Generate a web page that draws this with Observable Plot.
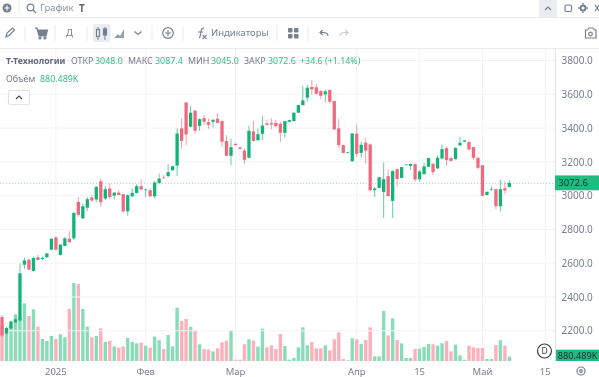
<!DOCTYPE html>
<html><head><meta charset="utf-8">
<script src="https://cdn.jsdelivr.net/npm/d3@7"></script>
<script src="https://cdn.jsdelivr.net/npm/@observablehq/plot@0.6"></script>
<style>
html,body{margin:0;padding:0;background:#fff;overflow:hidden}
#page{position:relative;width:599px;height:377px;font-family:"Noto Sans",sans-serif;color:#6f7a8a;filter:blur(0.3px)}
#bar{position:absolute;left:0;top:0;width:599px;height:48px;border-bottom:1px solid #e8ebef;box-sizing:content-box}
.t{position:absolute;white-space:nowrap;line-height:1}
.g{color:#35bd87}
svg.chart{position:absolute;left:0;top:49px;background:transparent;overflow:visible}
svg.ic{position:absolute;left:0;top:0}
</style></head><body><div id="page">
<svg class="ic" width="599" height="377" fill="none" stroke="#76808f" stroke-width="1.2" style="z-index:5">
  <rect x="539" y="0" width="18" height="17" fill="#e8edf2" stroke="none"/>
  <rect x="93" y="24" width="17.5" height="18" rx="2" fill="#e8edf2" stroke="none"/>
  <rect x="0" y="17" width="599" height="1" fill="#e8ebef" stroke="none"/>
  <g stroke="#e8ebef" stroke-width="1">
    <path d="M19 1V14M25 25V41M55 25V41M87 25V41M152 25V41M183 25V41M277 25V41M308 25V41"/>
  </g>
  <circle cx="7" cy="8" r="4.5" fill="#76808f" stroke="none"/><path d="M4.5 8H9.5M7 5.5V10.5" stroke="#fff"/>
  <circle cx="30.500" cy="7.5" r="3.300"/><path d="M33 10L36 13"/>
  <path d="M545 10L548 7L551 10"/>
  <rect x="565" y="5" width="6.5" height="6.5" rx="1.2"/>
  <circle cx="583" cy="8" r="2.5" stroke-width="2"/><path d="M583 3V4.500M583 11.500V13M578 8H579.500M586.500 8H588" stroke-width="1.5"/>
  <path d="M595 5L599 11M599 5L595 11"/>
  <path d="M6 37L7 33L12.500 28L14.500 30L9 35.500Z"/>
  <path d="M35 28H37L39 36H46L47.500 30H38" fill="#76808f"/><circle cx="40" cy="38" r="1" fill="#76808f"/><circle cx="45" cy="38" r="1" fill="#76808f"/>
  <path d="M98 27V40M105 27V40" stroke-width="1"/><rect x="96.500" y="29.500" width="3" height="7" fill="#e8edf2"/><rect x="103.500" y="29" width="3" height="6" fill="#76808f"/>
  <path d="M114 38L118 34L120 36L124 29V38Z" fill="#76808f" stroke="none" opacity=".75"/>
  <path d="M134.500 31.500L138 34.500L141.500 31.500"/>
  <circle cx="168" cy="33" r="5.300"/><path d="M165 33H171M168 30V36"/>
  <path d="M199 38C200.500 38 200 36 201 31C201.500 28.500 202.500 28 204 28M198 32H203M202.500 35L206.500 39M206.500 35L202.500 39"/>
  <g fill="#76808f" stroke="none"><rect x="288" y="28" width="4.500" height="4.500" rx="1"/><rect x="294" y="28" width="4.500" height="4.500" rx="1"/><rect x="288" y="34" width="4.500" height="4.500" rx="1"/><rect x="294" y="34" width="4.500" height="4.500" rx="1"/></g>
  <path d="M328 36C328 33 326 32.500 323 32.500H320M322.500 30L320 32.500L322.500 35"/>
  <path d="M340 36C340 33.500 342 32.500 345 32.500H348M345.500 30L348 32.500L345.500 35" opacity=".4"/>
  <path d="M585.500 30H587.500L589 28H593L594.500 30H596V38H585.500Z"/><circle cx="590.500" cy="34" r="1.800"/>
  <rect x="8.500" y="90.500" width="21" height="14" rx="1.500" stroke="#e0e3e8" fill="#fff"/><path d="M16 99L19 96L22 99" stroke="#444c58"/>
  <circle cx="544.500" cy="351" r="7" stroke="#3a424e" fill="#fff"/>
  <circle cx="581" cy="371" r="4" stroke-width="1.200"/><circle cx="581" cy="371" r="1.300"/>
</svg>
<div id="bar"></div>
<div id="labels"></div>
</div>
<script>
// Index-aligned daily candles, 114 trading days from late Dec 2024 to May 2025
const opens = [2278,2181,2211,2246,2258,2588,2618,2551,2632,2622,2632,2677,2750,2646,2699,2742,2744,2960,2863,2926,2986,2974,3082,2980,3039,2997,3015,3005,2904,2993,3013,3053,3029,3029,2993,3072,3104,3112,3147,3175,3395,3549,3405,3499,3410,3456,3432,3434,3452,3438,3320,3233,3304,3282,3264,3221,3377,3325,3363,3424,3426,3428,3422,3369,3434,3438,3488,3533,3577,3640,3638,3616,3596,3622,3557,3395,3296,3250,3201,3363,3250,3310,3300,3029,3043,3019,3112,2966,3153,3102,3177,3173,3183,3094,3124,3168,3185,3158,3217,3278,3219,3213,3294,3316,3314,3284,3221,3177,3001,3033,3035,2934,3041,3048];
const highs = [2290,2220,2258,2270,2596,2630,2622,2634,2645,2638,2657,2744,2756,2709,2752,2788,2897,2989,2950,2989,2999,3053,3098,3053,3069,3017,3029,3007,3005,3039,3065,3092,3039,3039,3084,3128,3118,3183,3172,3395,3454,3550,3527,3507,3454,3474,3454,3448,3484,3444,3355,3335,3306,3286,3276,3410,3440,3395,3468,3448,3454,3444,3434,3440,3446,3490,3535,3648,3652,3681,3658,3624,3624,3628,3559,3454,3298,3256,3367,3418,3316,3339,3306,3049,3108,3193,3152,3148,3157,3168,3183,3187,3187,3148,3191,3221,3191,3237,3300,3286,3227,3282,3345,3326,3322,3286,3223,3179,3023,3053,3037,3092,3079,3087.4];
const lows = [2160,2175,2205,2244,2250,2562,2555,2549,2614,2614,2630,2673,2673,2642,2697,2720,2735,2871,2859,2906,2960,2958,2932,2970,2974,2974,2997,2899,2877,2986,3009,3029,2989,2989,2979,3068,3096,3108,3146,3114,3276,3296,3401,3365,3381,3416,3393,3401,3424,3286,3232,3177,3292,3270,3185,3217,3316,3321,3325,3408,3389,3401,3314,3341,3432,3436,3486,3529,3553,3592,3596,3569,3549,3541,3385,3280,3248,3248,3197,3227,3223,3187,3023,2989,3039,2865,2989,2865,3049,3100,3175,3148,3079,3079,3122,3167,3118,3156,3211,3175,3199,3211,3293,3315,3266,3207,3152,2995,2998,3025,2914,2903,3005,3045];
const closes = [2169,2213,2252,2264,2537,2614,2559,2628,2616,2628,2655,2742,2677,2707,2744,2721,2895,2883,2934,2976,2968,3049,2958,3035,2989,3015,3001,2903,2999,3013,3053,3033,3033,2993,3074,3098,3100,3136,3171,3365,3321,3359,3488,3381,3450,3434,3416,3446,3428,3316,3233,3284,3296,3274,3209,3381,3321,3361,3412,3416,3418,3408,3369,3438,3444,3488,3533,3561,3636,3626,3600,3588,3614,3553,3389,3296,3250,3254,3365,3244,3298,3264,3029,3039,3106,3094,2995,3142,3096,3166,3181,3185,3092,3140,3170,3219,3136,3221,3272,3207,3203,3280,3310,3324,3270,3221,3162,2996,3019,3037,2934,3035,3027,3072.6];
const volumesK = [7312,6635,6973,9478,8666,11712,9140,10494,6973,4468,4062,5078,4468,5416,4807,10561,15842,15639,10561,6973,4807,5078,6635,3859,4062,2979,2708,2979,4671,3859,3588,3724,3114,2708,4942,4197,2437,5281,2979,10832,8124,8530,6973,6093,3400,2437,2302,1963,2573,3791,4130,6228,271,271,3385,4400,4130,2911,6567,2776,3182,2437,5484,3047,271,609,2776,6838,3182,3859,2573,2573,3182,2166,4400,5822,406,135,4604,4400,3453,4265,6838,948,948,10155,5213,8666,4265,3588,609,609,2437,2505,2843,3453,3385,3114,3588,4062,1963,3317,1151,271,3114,2776,2640,2640,406,406,3250,4197,3114,880.489];
const priceTicks = [2200,2400,2600,2800,3000,3200,3400,3600,3800];
const timeTickIdx = [12,32,52,79,93,107,121];
const timeTickLabels = ["2025","Фев","Мар","Апр","15","Май","15"];
const legendSeries = "Т-Технологии";
const lastLabel = "3072.6", volLabel = "880.489K";

const GREEN="#13b378", RED="#ef6a7f", GREENV="#88dcb8", REDV="#fbb0bc", BOX="#1fbb80";
const FONT='"Noto Sans",sans-serif';
const idx = d3.range(opens.length);
const up = i => closes[i] >= opens[i];
const W=599, H=328, MR=44, MT=0, MB=16;
const xDomain=[-0.334,123.27];
const last = idx[idx.length-1];

// Volume pane (own scale, behind the candles)
const volPlot = Plot.plot({
  width:W,height:H,marginLeft:0,marginRight:MR,marginTop:MT,marginBottom:MB,
  style:{background:"transparent",fontFamily:FONT},
  x:{domain:xDomain,axis:null},
  y:{domain:[0,63336],axis:null},
  marks:[
    Plot.ruleX(timeTickIdx,{stroke:"#f2f3f5",strokeWidth:1}),
    Plot.ruleX(idx,{x:i=>i,y1:0,y2:i=>volumesK[i],stroke:i=>up(i)?GREENV:REDV,strokeWidth:3.4}),
    Plot.rect([last],{x1:()=>123.27,x2:()=>133.1,y1:0,y2:2300,fill:BOX}),
    Plot.text([volLabel],{x:()=>128.2,y:1100,text:d=>d,fill:"#1c2b33",fontSize:9.2})
  ]
});

// Price pane with right axis and date axis
const pricePlot = Plot.plot({
  width:W,height:H,marginLeft:0,marginRight:MR,marginTop:MT,marginBottom:MB,
  style:{background:"transparent",fontFamily:FONT},
  x:{domain:xDomain,axis:null},
  y:{domain:[2018,3865],axis:null},
  marks:[
    Plot.gridY(priceTicks,{stroke:"#f2f3f5",strokeOpacity:1}),
    Plot.ruleX([123.27],{stroke:"#dfe2e6"}),
    Plot.axisY(priceTicks,{anchor:"right",tickSize:0,tickPadding:6,fontSize:10,dy:0.5,color:"#76808f",tickFormat:d=>d.toFixed(1)}),
    Plot.axisX(timeTickIdx,{anchor:"bottom",tickSize:0,tickPadding:6.5,fontSize:9.5,color:"#76808f",tickFormat:(d,i)=>timeTickLabels[i]}),
    Plot.ruleY([closes[last]],{stroke:"#9fdcc2",strokeWidth:1,strokeDasharray:"1.2,1.8"}),
    Plot.ruleX(idx,{x:i=>i,y1:i=>lows[i],y2:i=>highs[i],stroke:i=>up(i)?GREEN:RED,strokeWidth:1,strokeOpacity:.65,clip:true}),
    Plot.ruleX(idx,{x:i=>i,y1:i=>opens[i],y2:i=>closes[i],stroke:i=>up(i)?GREEN:RED,strokeWidth:3.3,clip:true}),
    Plot.rect([last],{x1:()=>123.27,x2:()=>133.1,y1:closes[last]-44,y2:closes[last]+44,fill:BOX}),
    Plot.text([lastLabel],{x:()=>127.2,y:closes[last],text:d=>d,fill:"#1c2b33",fontSize:9.5})
  ]
});
for (const p of [volPlot,pricePlot]) { p.classList.add("chart"); document.getElementById("page").appendChild(p); }

// Header text and OHLC legend
const texts = [
  ["График",40,3,9.5,"#8d96a3",400],["T",79,3,10,"#5f6875",700],
  ["Д",66,28,9.5,"#76808f",400],["Индикаторы",211,28,9.5,"#76808f",400],
  [legendSeries,6,56.5,8.7,"#5f6875",700],
  ["ОТКР",71,56.5,8.9,"#6f7a8a",400],[opens[last].toFixed(1),95,56.5,8.9,"#35bd87",400],
  ["МАКС",128,56.5,8.9,"#6f7a8a",400],[highs[last].toFixed(1),155,56.5,8.9,"#35bd87",400],
  ["МИН",188,56.5,8.9,"#6f7a8a",400],[lows[last].toFixed(1),211,56.5,8.9,"#35bd87",400],
  ["ЗАКР",244,56.5,8.9,"#6f7a8a",400],[closes[last].toFixed(1),268,56.5,8.9,"#35bd87",400],
  ["+34.6 (+1.14%)",300,56.5,8.9,"#35bd87",400],
  ["Объём",6,74.5,8.9,"#6f7a8a",400],[volLabel,40,74.5,8.9,"#35bd87",400],
  ["D",541.5,346.500,8.5,"#3a424e",400]
];
const L=document.getElementById("labels");
for (const [s,x,y,f,c,w] of texts){
  const e=document.createElement("div");e.className="t";e.textContent=s;
  e.style.cssText=`left:${x}px;top:${y}px;font-size:${f}px;color:${c};font-weight:${w};z-index:6`;
  L.appendChild(e);
}
</script>
</body></html>
